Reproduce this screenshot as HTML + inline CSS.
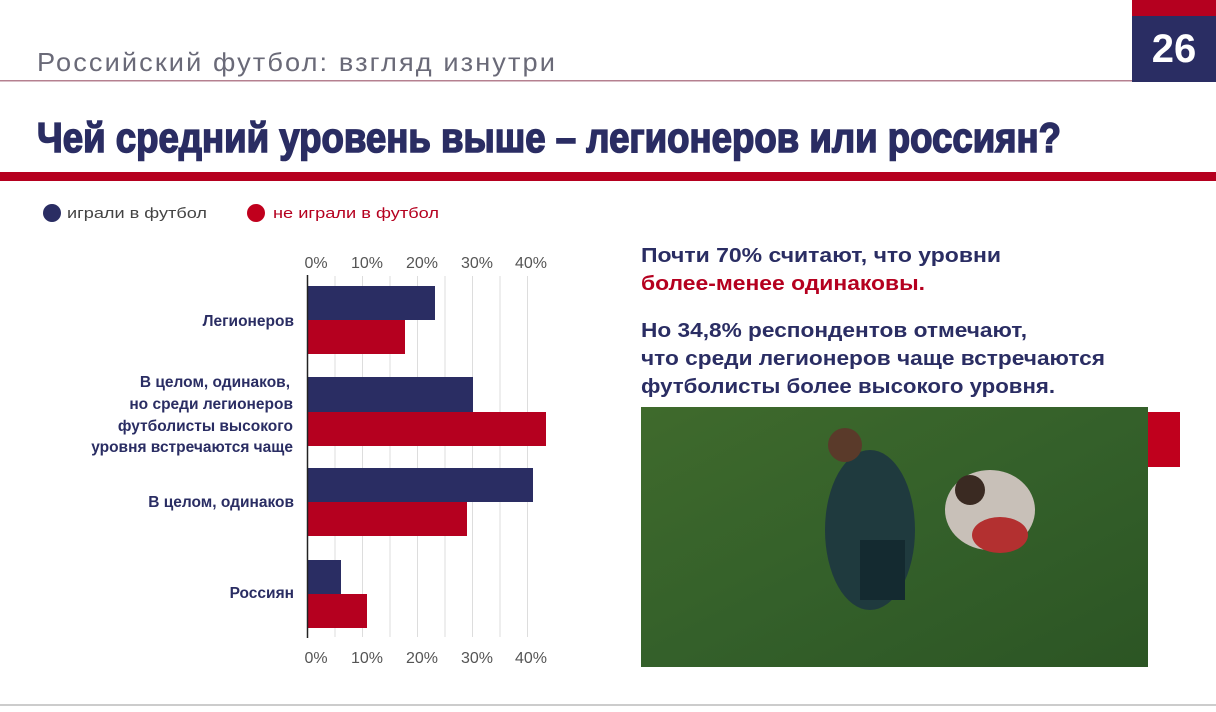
<!DOCTYPE html>
<html><head><meta charset="utf-8"><style>
body{margin:0;width:1216px;height:707px;background:#fff;overflow:hidden;font-family:"Liberation Sans",sans-serif}
</style></head><body>
<svg width="1216" height="707" viewBox="0 0 1216 707" xmlns="http://www.w3.org/2000/svg" font-family="Liberation Sans, DejaVu Sans, sans-serif">
<rect x="1132" y="0" width="84" height="16" fill="#b5001f"/>
<rect x="1132" y="16" width="84" height="66" fill="#2a2d63"/>
<text x="1174" y="62" font-size="40" font-weight="bold" fill="#fff" text-anchor="middle">26</text>
<text x="37" y="71" font-size="26" fill="#6a6a78" textLength="520" lengthAdjust="spacingAndGlyphs" letter-spacing="2">Российский футбол: взгляд изнутри</text>
<rect x="0" y="80" width="1132" height="1.5" fill="#b58090"/>
<text x="37" y="152" font-size="42" font-weight="bold" fill="#2a2d63" stroke="#2a2d63" stroke-width="1.6" textLength="1024" lengthAdjust="spacingAndGlyphs">Чей средний уровень выше – легионеров или россиян?</text>
<rect x="0" y="172" width="1216" height="9" fill="#b5001f"/>
<circle cx="52" cy="213" r="9" fill="#2a2d63"/>
<text x="67" y="218" font-size="15" fill="#444" textLength="140" lengthAdjust="spacingAndGlyphs">играли в футбол</text>
<circle cx="256" cy="213" r="9" fill="#c0001d"/>
<text x="273" y="218" font-size="15" fill="#b5001f" textLength="166" lengthAdjust="spacingAndGlyphs">не играли в футбол</text>
<g stroke="#ddd" stroke-width="1">
<line x1="335" y1="276" x2="335" y2="637"/><line x1="362.5" y1="276" x2="362.5" y2="637"/>
<line x1="390" y1="276" x2="390" y2="637"/><line x1="417.5" y1="276" x2="417.5" y2="637"/>
<line x1="445" y1="276" x2="445" y2="637"/><line x1="472.5" y1="276" x2="472.5" y2="637"/>
<line x1="500" y1="276" x2="500" y2="637"/><line x1="527.5" y1="276" x2="527.5" y2="637"/>
</g>
<g fill="#2a2d63">
<rect x="308" y="286" width="127" height="34"/><rect x="308" y="377" width="165" height="35"/>
<rect x="308" y="468" width="225" height="34"/><rect x="308" y="560" width="33" height="34"/>
</g>
<g fill="#b5001f">
<rect x="308" y="320" width="97" height="34"/><rect x="308" y="412" width="238" height="34"/>
<rect x="308" y="502" width="159" height="34"/><rect x="308" y="594" width="59" height="34"/>
</g>
<line x1="307.5" y1="275" x2="307.5" y2="638" stroke="#222" stroke-width="1.5"/>
<g font-size="16" fill="#555" text-anchor="middle">
<text x="316" y="268">0%</text><text x="367" y="268">10%</text><text x="422" y="268">20%</text><text x="477" y="268">30%</text><text x="531" y="268">40%</text>
<text x="316" y="663">0%</text><text x="367" y="663">10%</text><text x="422" y="663">20%</text><text x="477" y="663">30%</text><text x="531" y="663">40%</text>
</g>
<g font-size="15.5" font-weight="bold" fill="#2a2d63" text-anchor="end">
<text x="294" y="326">Легионеров</text>
<text x="290" y="387">В целом, одинаков,</text>
<text x="293" y="409">но среди легионеров</text>
<text x="293" y="431">футболисты высокого</text>
<text x="293" y="452">уровня встречаются чаще</text>
<text x="294" y="507">В целом, одинаков</text>
<text x="294" y="598">Россиян</text>
</g>
<g font-size="20" font-weight="bold">
<text x="641" y="262" fill="#2a2d63" textLength="360" lengthAdjust="spacingAndGlyphs">Почти 70% считают, что уровни</text>
<text x="641" y="290" fill="#b5001f" textLength="284" lengthAdjust="spacingAndGlyphs">более-менее одинаковы.</text>
<text x="641" y="337" fill="#2a2d63" textLength="386" lengthAdjust="spacingAndGlyphs">Но 34,8% респондентов отмечают,</text>
<text x="641" y="365" fill="#2a2d63" textLength="464" lengthAdjust="spacingAndGlyphs">что среди легионеров чаще встречаются</text>
<text x="641" y="393" fill="#2a2d63" textLength="414" lengthAdjust="spacingAndGlyphs">футболисты более высокого уровня.</text>
</g>
<defs><linearGradient id="g" x1="0" y1="0" x2="1" y2="1"><stop offset="0" stop-color="#3f6a2c"/><stop offset="0.5" stop-color="#34602a"/><stop offset="1" stop-color="#2c5524"/></linearGradient></defs>
<rect x="641" y="407" width="507" height="260" fill="url(#g)"/>
<ellipse cx="870" cy="530" rx="45" ry="80" fill="#1f3a3e"/>
<circle cx="845" cy="445" r="17" fill="#5a3a2a"/>
<rect x="860" y="540" width="45" height="60" fill="#142a30"/>
<ellipse cx="990" cy="510" rx="45" ry="40" fill="#c8c0b8"/>
<circle cx="970" cy="490" r="15" fill="#3a2a22"/>
<ellipse cx="1000" cy="535" rx="28" ry="18" fill="#b33030"/>
<rect x="1148" y="412" width="32" height="55" fill="#c0001d"/>
<rect x="0" y="704" width="1216" height="2" fill="#ccc"/>
</svg>
</body></html>
